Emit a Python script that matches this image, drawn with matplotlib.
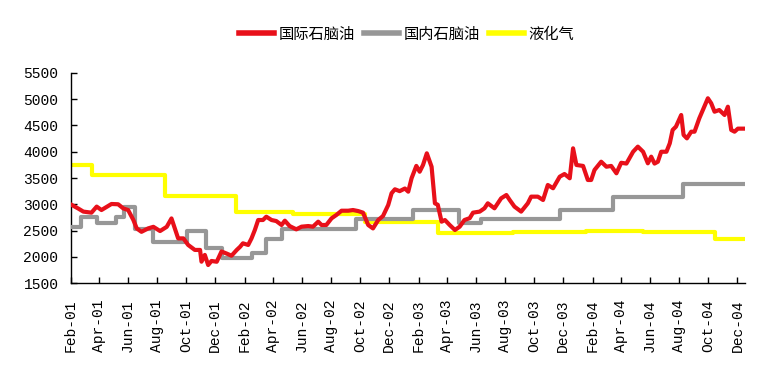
import numpy as np
import matplotlib
matplotlib.use("Agg")
import matplotlib.pyplot as plt
import matplotlib.dates as mdates

# 国际石脑油 (weekly-ish readings)
intl_dates = [
    "2001-02-02", "2001-02-16", "2001-02-27", "2001-03-16", "2001-03-27", "2001-04-06",
    "2001-04-27", "2001-05-11", "2001-05-22", "2001-06-01", "2001-06-12", "2001-06-19",
    "2001-06-29", "2001-07-13", "2001-07-24", "2001-08-07", "2001-08-21", "2001-08-31",
    "2001-09-14", "2001-09-25", "2001-10-05", "2001-10-19", "2001-10-30", "2001-11-02",
    "2001-11-09", "2001-11-16", "2001-11-23", "2001-12-04", "2001-12-14", "2001-12-25",
    "2002-01-04", "2002-01-15", "2002-01-22", "2002-01-28", "2002-02-08", "2002-02-15",
    "2002-02-22", "2002-03-01", "2002-03-11", "2002-03-18", "2002-03-29", "2002-04-08",
    "2002-04-19", "2002-04-26", "2002-05-06", "2002-05-20", "2002-05-31", "2002-06-14",
    "2002-06-24", "2002-07-05", "2002-07-12", "2002-07-22", "2002-08-02", "2002-08-12",
    "2002-08-23", "2002-09-06", "2002-09-16", "2002-09-27", "2002-10-07", "2002-10-18",
    "2002-10-28", "2002-11-08", "2002-11-18", "2002-11-29", "2002-12-06", "2002-12-13",
    "2002-12-23", "2003-01-03", "2003-01-10", "2003-01-17", "2003-01-27", "2003-02-03",
    "2003-02-10", "2003-02-18", "2003-02-28", "2003-03-07", "2003-03-13", "2003-03-21",
    "2003-03-28", "2003-04-07", "2003-04-18", "2003-04-28", "2003-05-08", "2003-05-19",
    "2003-05-26", "2003-06-09", "2003-06-19", "2003-06-26", "2003-07-10", "2003-07-24",
    "2003-08-04", "2003-08-11", "2003-08-21", "2003-09-04", "2003-09-18", "2003-09-25",
    "2003-10-09", "2003-10-20", "2003-10-30", "2003-11-10", "2003-11-24", "2003-12-04",
    "2003-12-15", "2003-12-22", "2003-12-29", "2004-01-12", "2004-01-22", "2004-01-29",
    "2004-02-05", "2004-02-19", "2004-03-01", "2004-03-11", "2004-03-22", "2004-04-01",
    "2004-04-12", "2004-04-26", "2004-05-06", "2004-05-17", "2004-05-27", "2004-06-03",
    "2004-06-10", "2004-06-17", "2004-06-24", "2004-07-05", "2004-07-12", "2004-07-18",
    "2004-07-25", "2004-08-05", "2004-08-10", "2004-08-17", "2004-08-26", "2004-09-02",
    "2004-09-12", "2004-09-30", "2004-10-07", "2004-10-14", "2004-10-24", "2004-11-04",
    "2004-11-11", "2004-11-18", "2004-11-25", "2004-12-02", "2004-12-16",
]
intl_vals = [
    2990, 2920, 2860, 2840, 2955, 2890,
    3005, 3000, 2920, 2890, 2700, 2540,
    2475, 2540, 2570, 2490, 2570, 2730,
    2350, 2350, 2225, 2130, 2130, 1906,
    2035, 1843, 1920, 1905, 2100, 2060,
    2020, 2130, 2190, 2256, 2225, 2350,
    2510, 2700, 2700, 2763, 2700, 2680,
    2605, 2687, 2585, 2522, 2573, 2585,
    2573, 2668, 2605, 2605, 2732, 2795,
    2877, 2877, 2890, 2870, 2840, 2605,
    2540, 2700, 2776, 2986, 3210, 3285,
    3250, 3300, 3240, 3495, 3730, 3620,
    3748, 3970, 3715, 3018, 2990, 2668,
    2700, 2605, 2510, 2573, 2700, 2735,
    2840, 2860, 2923, 3018, 2923, 3113,
    3176, 3081, 2955, 2860, 3018, 3145,
    3145, 3081, 3367, 3305, 3525, 3576,
    3495, 4065, 3748, 3730, 3462, 3462,
    3653, 3810, 3715, 3730, 3590, 3790,
    3775, 4000, 4097, 4000, 3780, 3906,
    3775, 3810, 4000, 4000, 4160, 4415,
    4478, 4700, 4320, 4255, 4382, 4382,
    4637, 5018, 4923, 4763, 4795, 4700,
    4858, 4415, 4382, 4440, 4440,
]

# 国内石脑油 (price steps)
dom_dates = [
    "2001-02-01", "2001-02-22", "2001-03-27", "2001-05-06", "2001-05-23", "2001-06-15",
    "2001-07-24", "2001-10-02", "2001-11-11", "2001-12-16", "2002-02-17", "2002-03-18",
    "2002-04-21", "2002-09-22", "2003-01-20", "2003-04-27", "2003-06-12", "2003-11-24",
    "2004-03-15", "2004-08-08", "2004-12-16",
]
dom_vals = [
    2570, 2760, 2650, 2760, 2950, 2520,
    2280, 2500, 2170, 1970, 2080, 2330,
    2530, 2720, 2900, 2640, 2720, 2900,
    3140, 3390, 3390,
]

# 液化气 (price steps)
lpg_dates = [
    "2001-02-01", "2001-03-18", "2001-08-17", "2002-01-13", "2002-05-13", "2002-10-11",
    "2003-03-13", "2003-08-18", "2004-01-19", "2004-05-16", "2004-10-14", "2004-12-16",
]
lpg_vals = [
    3750, 3560, 3160, 2850, 2820, 2660,
    2460, 2480, 2500, 2480, 2330, 2330,
]

labels = ["国际石脑油", "国内石脑油", "液化气"]
yticks = [1500, 2000, 2500, 3000, 3500, 4000, 4500, 5000, 5500]

fig = plt.figure(figsize=(7.79, 3.72), dpi=100)
ax = fig.add_axes([0.0911, 0.2392, 0.8653, 0.5646])

d1 = np.array(intl_dates, dtype="datetime64[D]")
d2 = np.array(dom_dates, dtype="datetime64[D]")
d3 = np.array(lpg_dates, dtype="datetime64[D]")

l1, = ax.plot(d1, intl_vals, color="#E8101A", lw=3.0, zorder=4, solid_joinstyle="round")
l2, = ax.plot(d2, dom_vals, color="#979797", lw=3.0, drawstyle="steps-post", zorder=3)
l3, = ax.plot(d3, lpg_vals, color="#FFFF00", lw=3.0, drawstyle="steps-post", zorder=2)

ax.set_ylim(1500, 5500)
ax.set_yticks(yticks)
ax.set_xlim(np.datetime64("2001-02-01"), np.datetime64("2004-12-17"))
ax.xaxis.set_major_locator(mdates.MonthLocator(bymonth=[2, 4, 6, 8, 10, 12]))
ax.xaxis.set_major_formatter(mdates.DateFormatter("%b-%y"))

for s in ["top", "right"]:
    ax.spines[s].set_visible(False)
ax.spines["left"].set_linewidth(1.0)
ax.spines["bottom"].set_linewidth(1.0)
ax.tick_params(axis="both", direction="in", length=4, width=1.0, colors="black")
ax.tick_params(axis="y", pad=9)
ax.tick_params(axis="x", pad=12)
for t in ax.get_xticklabels():
    t.set_rotation(90)
    t.set_fontfamily("Liberation Mono")
    t.set_fontsize(10.5)
for t in ax.get_yticklabels():
    t.set_fontfamily("Liberation Mono")
    t.set_fontsize(10.5)

leg = fig.legend([l1, l2, l3], labels, loc="center", bbox_to_anchor=(0.522, 0.908),
                 ncol=3, frameon=False, handlelength=2.3, handletextpad=0.3,
                 columnspacing=0.6, prop={"family": ["Noto Sans CJK SC", "DejaVu Sans"], "size": 11})
for h in leg.legend_handles:
    h.set_linewidth(4)

fig.savefig("out.png", dpi=100)
